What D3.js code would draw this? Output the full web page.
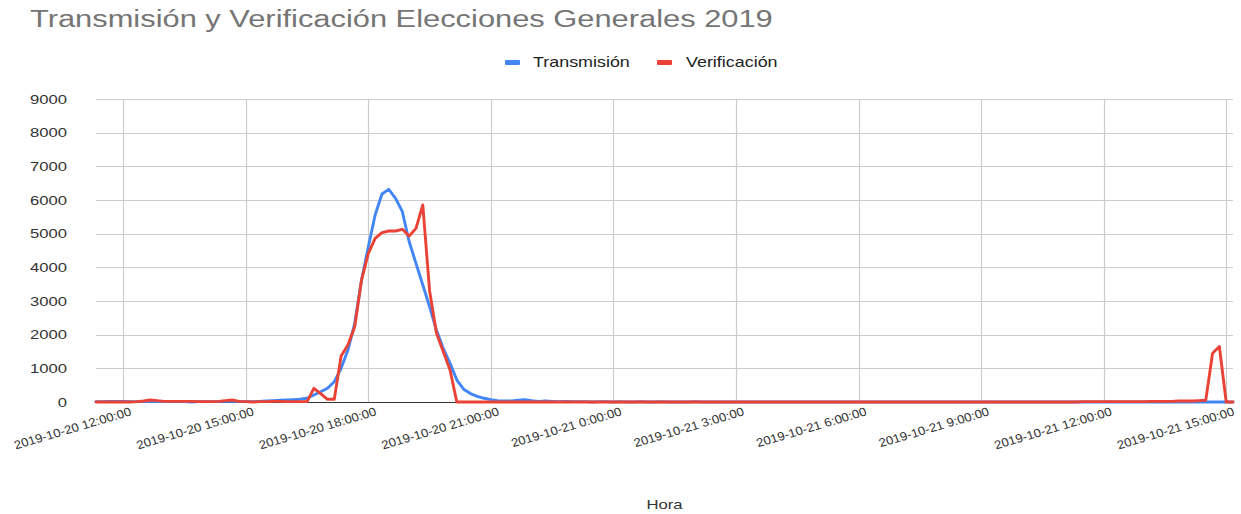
<!DOCTYPE html>
<html><head><meta charset="utf-8">
<script src="https://cdn.jsdelivr.net/npm/d3@7"></script>
<style>
body{margin:0;background:#fff;}
svg{display:block;font-family:Arial,"Liberation Sans",sans-serif;}
</style>
</head><body>
<svg id="chart" width="1241" height="514"></svg>
<script>
// ---- data ----
const chartTitle = "Transmisión y Verificación Elecciones Generales 2019";
const xAxisTitle = "Hora";
const seriesNames = ["Transmisión", "Verificación"];
const firstTime = "2019-10-20 11:20:00";   // first sample, samples every 10 minutes
const stepMinutes = 10;
const transmision = [
  10,10,20,20,20,10,10,20,10,10,
  10,10,10,10,0,10,10,10,10,20,
  20,10,10,10,20,30,40,50,60,70,
  80,110,208,306,407,603,1000,1544,2337,3623,
  4612,5554,6178,6317,6050,5652,4761,4119,3475,2830,
  2138,1594,1150,653,380,250,170,110,70,40,
  30,30,50,70,40,20,30,20,10,20,
  10,10,10,0,10,10,0,10,0,0,
  10,0,0,10,0,0,0,0,10,0,
  0,0,0,0,0,0,0,0,0,0,
  0,0,0,0,0,0,0,0,0,0,
  0,0,0,0,0,0,0,0,0,0,
  0,0,0,0,0,0,0,0,0,0,
  0,0,0,0,0,0,0,0,0,0,
  0,0,0,0,0,0,0,0,0,0,
  0,0,0,0,0,0,0,0,0,0,
  0,0,0,0,0,0,0,0
];
const verificacion = [
  0,0,0,0,0,0,10,30,60,40,
  20,20,20,20,20,10,10,10,20,40,
  60,20,10,0,10,10,20,20,10,10,
  10,10,407,250,80,80,1366,1693,2237,3623,
  4416,4862,5029,5079,5079,5129,4930,5158,5851,3300,
  2050,1500,950,0,0,0,0,0,0,0,
  0,0,0,0,0,0,0,0,0,0,
  0,0,0,0,0,0,0,0,0,0,
  0,0,0,0,0,0,0,0,0,0,
  0,0,0,0,0,0,0,0,0,0,
  0,0,0,0,0,0,0,0,0,0,
  0,0,0,0,0,0,0,0,0,0,
  0,0,0,0,0,0,0,0,0,0,
  0,0,0,0,0,0,0,0,0,0,
  0,0,0,0,0,10,10,10,10,10,
  10,10,10,10,10,20,20,20,20,30,
  30,30,40,50,1450,1650,0,0
];
const xTickLabels = [
  "2019-10-20 12:00:00","2019-10-20 15:00:00","2019-10-20 18:00:00","2019-10-20 21:00:00",
  "2019-10-21 0:00:00","2019-10-21 3:00:00","2019-10-21 6:00:00","2019-10-21 9:00:00",
  "2019-10-21 12:00:00","2019-10-21 15:00:00"
];
const yTicks = [0,1000,2000,3000,4000,5000,6000,7000,8000,9000];
const colors = ["#4285F4", "#EA4335"];

// ---- layout ----
const SX = 1.28; // horizontal text stretch seen in the reference
const plot = {left: 96, right: 1233, top: 99, bottom: 402};

function parseT(s){
  const m = s.match(/(\d+)-(\d+)-(\d+) (\d+):(\d+):(\d+)/);
  return new Date(+m[1], +m[2]-1, +m[3], +m[4], +m[5], +m[6]);
}
const t0 = parseT(firstTime);
const times = transmision.map((_, i) => d3.timeMinute.offset(t0, i*stepMinutes));
const series = [transmision, verificacion].map((vals, si) => ({
  name: seriesNames[si], color: colors[si],
  points: vals.map((v, i) => ({t: times[i], v}))
}));

const x = d3.scaleTime().domain([times[0], times[times.length-1]]).range([plot.left, plot.right]);
const y = d3.scaleLinear().domain([0, 9000]).range([plot.bottom, plot.top]);

const svg = d3.select("#chart");

// title
svg.append("text")
  .attr("transform", `translate(30,27) scale(${SX},1)`)
  .attr("font-size", 24.1).attr("fill", "#757575")
  .text(chartTitle);

// legend
const legend = [{x: 505, tx: 533}, {x: 657, tx: 686}];
series.forEach((s, i) => {
  svg.append("rect").attr("x", legend[i].x).attr("y", 60).attr("width", 15).attr("height", 5)
    .attr("rx", 1).attr("fill", s.color);
  svg.append("text")
    .attr("transform", `translate(${legend[i].tx},67) scale(${SX},1)`)
    .attr("font-size", 14).attr("fill", "#222").text(s.name);
});

// horizontal gridlines
const gridG = svg.append("g");
gridG.selectAll("line.h").data(yTicks.filter(d => d !== 0)).join("line")
  .attr("x1", plot.left).attr("x2", plot.right)
  .attr("y1", d => Math.round(y(d)) + 0.5).attr("y2", d => Math.round(y(d)) + 0.5)
  .attr("stroke", "#cccccc").attr("stroke-width", 1.2);

// vertical gridlines
const xTickDates = xTickLabels.map(parseT);
gridG.selectAll("line.v").data(xTickDates).join("line")
  .attr("x1", d => Math.round(x(d)) + 0.5).attr("x2", d => Math.round(x(d)) + 0.5)
  .attr("y1", plot.top).attr("y2", plot.bottom)
  .attr("stroke", "#cccccc").attr("stroke-width", 1.2);

// baseline
svg.append("line").attr("x1", plot.left).attr("x2", plot.right)
  .attr("y1", y(0) + 0.5).attr("y2", y(0) + 0.5)
  .attr("stroke", "#333").attr("stroke-width", 1.2);

// y labels
svg.append("g").selectAll("text").data(yTicks).join("text")
  .attr("transform", d => `translate(67,${y(d) + 4.6}) scale(${SX},1)`)
  .attr("text-anchor", "end").attr("font-size", 13).attr("fill", "#333")
  .text(d => d);

// x labels (slanted)
svg.append("g").selectAll("text").data(xTickLabels).join("text")
  .attr("transform", (d, i) => `translate(${x(xTickDates[i]) + 9},415) scale(1.1,1) rotate(-18)`)
  .attr("text-anchor", "end").attr("font-size", 12).attr("fill", "#333")
  .text(d => d);

// x axis title
svg.append("text")
  .attr("transform", `translate(${(plot.left + plot.right)/2},509) scale(${SX},1)`)
  .attr("text-anchor", "middle").attr("font-size", 13).attr("fill", "#333")
  .text(xAxisTitle);

// lines
const line = d3.line().x(d => x(d.t)).y(d => y(d.v));
svg.append("g").selectAll("path").data(series).join("path")
  .attr("d", s => line(s.points))
  .attr("fill", "none").attr("stroke", s => s.color)
  .attr("stroke-width", 2.9).attr("stroke-linejoin", "round").attr("stroke-linecap", "round");
</script>
</body></html>
